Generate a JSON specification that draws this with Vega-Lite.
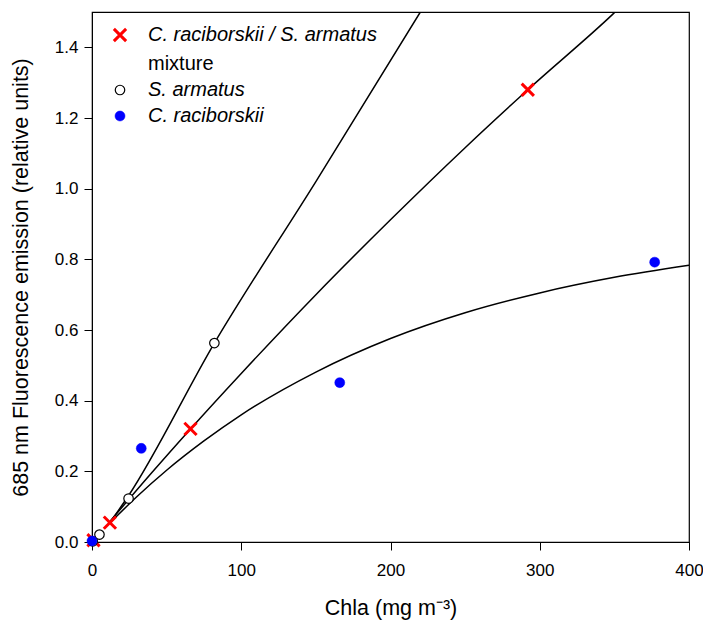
{
  "$schema": "https://vega.github.io/schema/vega-lite/v6.json",
  "width": 597,
  "height": 530,
  "autosize": "none",
  "padding": {"left": 92, "top": 12, "right": 14, "bottom": 78},
  "background": "white",
  "config": {
    "font": "Liberation Sans",
    "view": {"stroke": "black", "strokeWidth": 1.2},
    "axis": {"grid": false, "domainColor": "black", "tickColor": "black", "tickSize": 8, "labelColor": "black", "titleColor": "black", "labelFontSize": 17, "titleFontSize": 21.5, "titleFontWeight": "normal"}
  },
  "datasets": {
    "pts": [
      {"series": "mix", "chl": 1, "fl": 0.005},
      {"series": "mix", "chl": 12, "fl": 0.055},
      {"series": "mix", "chl": 66, "fl": 0.32},
      {"series": "mix", "chl": 292, "fl": 1.28},
      {"series": "arm", "chl": 0.5, "fl": 0.002},
      {"series": "arm", "chl": 5, "fl": 0.021},
      {"series": "arm", "chl": 24.5, "fl": 0.123},
      {"series": "arm", "chl": 82, "fl": 0.563},
      {"series": "rac", "chl": 0, "fl": 0.003},
      {"series": "rac", "chl": 33, "fl": 0.265},
      {"series": "rac", "chl": 166, "fl": 0.451},
      {"series": "rac", "chl": 377, "fl": 0.792}
    ],
    "curves": [
      {"curve": "arm", "chl": 12, "fl": 0.055},
      {"curve": "arm", "chl": 24, "fl": 0.128},
      {"curve": "arm", "chl": 82, "fl": 0.563},
      {"curve": "arm", "chl": 150, "fl": 1.02},
      {"curve": "arm", "chl": 220, "fl": 1.5},
      {"curve": "mix", "chl": 12, "fl": 0.058},
      {"curve": "mix", "chl": 40, "fl": 0.196},
      {"curve": "mix", "chl": 66, "fl": 0.32},
      {"curve": "mix", "chl": 100, "fl": 0.477},
      {"curve": "mix", "chl": 150, "fl": 0.70},
      {"curve": "mix", "chl": 200, "fl": 0.912},
      {"curve": "mix", "chl": 250, "fl": 1.116},
      {"curve": "mix", "chl": 292, "fl": 1.28},
      {"curve": "mix", "chl": 349, "fl": 1.494},
      {"curve": "mix", "chl": 350.5, "fl": 1.5},
      {"curve": "rac", "chl": 12, "fl": 0.054},
      {"curve": "rac", "chl": 30, "fl": 0.128},
      {"curve": "rac", "chl": 50, "fl": 0.203},
      {"curve": "rac", "chl": 75, "fl": 0.286},
      {"curve": "rac", "chl": 100, "fl": 0.36},
      {"curve": "rac", "chl": 150, "fl": 0.481},
      {"curve": "rac", "chl": 200, "fl": 0.576},
      {"curve": "rac", "chl": 250, "fl": 0.649},
      {"curve": "rac", "chl": 300, "fl": 0.705},
      {"curve": "rac", "chl": 350, "fl": 0.749},
      {"curve": "rac", "chl": 400, "fl": 0.783}
    ]
  },
  "layer": [
    {
      "data": {"name": "curves"},
      "mark": {"type": "line", "color": "black", "strokeWidth": 1.5, "interpolate": "monotone", "clip": true},
      "encoding": {
        "x": {"field": "chl", "type": "quantitative", "scale": {"domain": [0, 400], "nice": false},
          "axis": {"values": [0, 100, 200, 300, 400], "title": "Chla (mg m⁻³)", "labelPadding": 12, "labelFlush": false, "titlePadding": 19}},
        "y": {"field": "fl", "type": "quantitative", "scale": {"domain": [0, 1.5], "nice": false},
          "axis": {"values": [0, 0.2, 0.4, 0.6, 0.8, 1.0, 1.2, 1.4], "format": ".1f", "title": "685 nm Fluorescence emission (relative units)", "labelPadding": 6, "labelFlush": false, "titlePadding": 22}},
        "detail": {"field": "curve"}
      }
    },
    {
      "data": {"name": "pts"},
      "mark": {"type": "point", "opacity": 1, "filled": false},
      "encoding": {
        "x": {"field": "chl", "type": "quantitative"},
        "y": {"field": "fl", "type": "quantitative"},
        "shape": {"field": "series", "type": "nominal", "title": null,
          "scale": {"domain": ["mix", "mixlabel", "arm", "rac"], "range": ["M-1,-1L1,1M1,-1L-1,1", "circle", "circle", "circle"]},
          "legend": {"orient": "none", "legendX": 18, "legendY": 13,
            "labelExpr": "datum.value == 'mix' ? 'C. raciborskii / S. armatus' : datum.value == 'mixlabel' ? 'mixture' : datum.value == 'arm' ? 'S. armatus' : 'C. raciborskii'",
            "labelFontSize": 20, "labelOffset": 18, "rowPadding": 6, "labelColor": "black", "labelLimit": 400,
            "labelFontStyle": {"expr": "datum.value == 'mixlabel' ? 'normal' : 'italic'"}}},
        "fill": {"field": "series", "type": "nominal", "title": null,
          "scale": {"domain": ["mix", "mixlabel", "arm", "rac"], "range": ["transparent", "transparent", "white", "#0000ff"]}},
        "stroke": {"field": "series", "type": "nominal", "title": null,
          "scale": {"domain": ["mix", "mixlabel", "arm", "rac"], "range": ["#ff0000", "transparent", "black", "#0000ff"]}},
        "size": {"field": "series", "type": "nominal", "title": null,
          "scale": {"type": "ordinal", "domain": ["mix", "mixlabel", "arm", "rac"], "range": [150, 0, 90, 100]}},
        "strokeWidth": {"field": "series", "type": "nominal", "title": null,
          "scale": {"type": "ordinal", "domain": ["mix", "mixlabel", "arm", "rac"], "range": [3, 0, 1.2, 0.5]}}
      }
    }
  ]
}
